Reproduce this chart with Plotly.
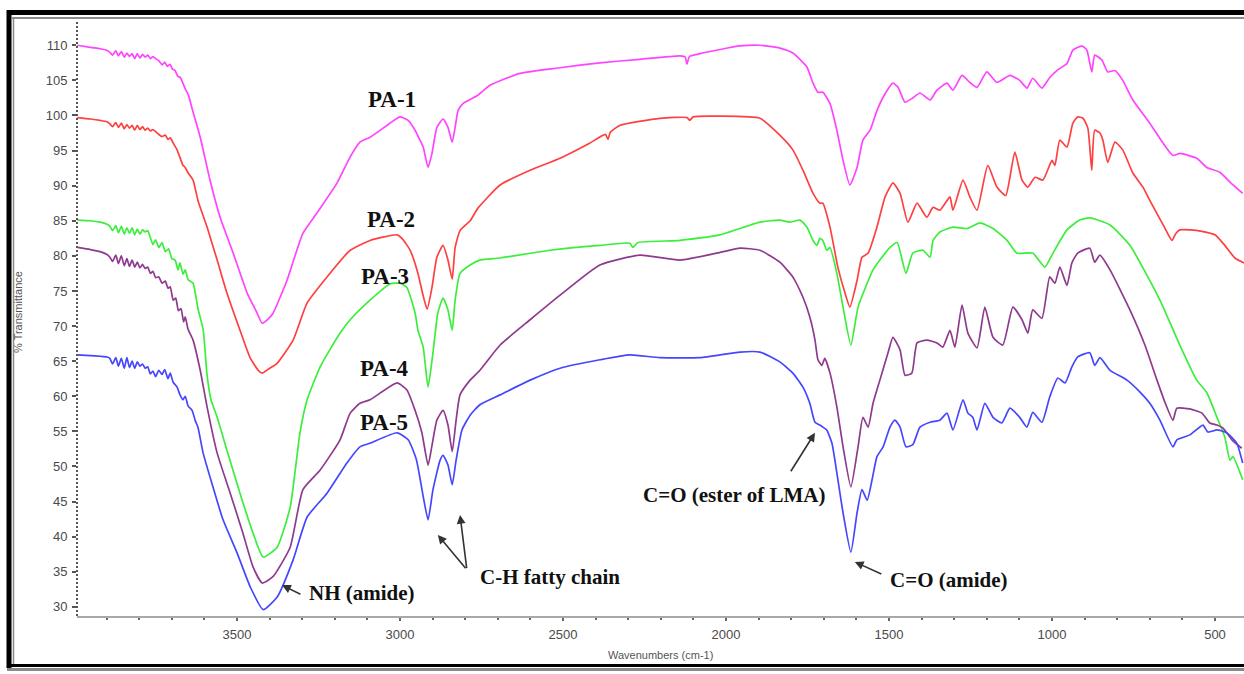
import plotly.graph_objects as go

# ---------------- data (wavenumber cm-1, % transmittance) ----------------
pa1_wn = [3990, 3950, 3920, 3900, 3890, 3882, 3872, 3864, 3855, 3846,
          3838, 3830, 3822, 3814, 3806, 3798, 3790, 3782, 3774, 3766,
          3758, 3750, 3740, 3730, 3722, 3714, 3706, 3698, 3690, 3682,
          3674, 3666, 3659, 3650, 3635, 3613, 3583, 3552, 3512, 3469,
          3440, 3423, 3405, 3390, 3347, 3298, 3255, 3193, 3153, 3123,
          3092, 3031, 3000, 2975, 2954, 2939, 2929, 2914, 2902, 2887,
          2868, 2853, 2840, 2831, 2822, 2807, 2764, 2724, 2632, 2509,
          2387, 2264, 2141, 2125, 2120, 2112, 2080, 2018, 1957, 1896,
          1835, 1795, 1752, 1733, 1718, 1703, 1681, 1660, 1641, 1620,
          1598, 1580, 1558, 1537, 1518, 1488, 1472, 1451, 1427, 1405,
          1374, 1353, 1322, 1304, 1276, 1252, 1230, 1200, 1169, 1129,
          1099, 1077, 1059, 1031, 1007, 985, 954, 936, 908, 893,
          878, 869, 847, 829, 807, 783, 752, 700, 660, 629,
          608, 556, 525, 485, 454, 415]
pa1_t = [110.0, 109.7, 109.5, 109.3, 109.0, 108.6, 109.2, 108.5, 109.1, 108.3,
         108.9, 108.4, 108.8, 108.1, 108.8, 108.2, 108.7, 108.3, 108.6, 108.1,
         108.4, 108.1, 107.8, 107.2, 107.6, 107.0, 107.3, 106.6, 106.4, 105.6,
         105.4, 104.6, 103.8, 103.0, 100.5, 96.9, 90.8, 85.5, 80.4, 74.7,
         72.0, 70.4, 71.0, 71.8, 76.5, 83.2, 86.1, 90.4, 94.1, 96.2,
         96.9, 98.9, 99.8, 99.3, 97.9, 96.5, 95.5, 92.6, 94.6, 98.3,
         99.5, 98.3, 96.2, 98.3, 100.7, 101.7, 102.8, 104.3, 106.0, 106.8,
         107.5, 108.0, 108.5, 108.3, 107.3, 108.4, 108.8, 109.4, 109.9, 110.0,
         109.6, 108.9, 106.9, 104.6, 103.3, 103.3, 101.7, 97.9, 93.6, 90.1,
         92.6, 96.5, 97.9, 100.7, 102.6, 104.6, 104.0, 101.9, 102.5, 103.2,
         102.2, 103.6, 104.6, 103.6, 105.7, 104.7, 104.0, 106.2, 104.7, 105.7,
         105.0, 103.9, 105.3, 103.9, 105.4, 106.4, 107.4, 109.3, 109.9, 109.3,
         106.2, 108.6, 107.9, 106.2, 106.4, 105.0, 102.2, 98.9, 96.1, 94.3,
         94.6, 93.9, 92.6, 91.9, 90.5, 88.9]

pa2_wn = [3990, 3950, 3920, 3899, 3890, 3882, 3872, 3864, 3855, 3846,
          3838, 3830, 3822, 3814, 3806, 3798, 3790, 3782, 3774, 3766,
          3758, 3750, 3740, 3730, 3720, 3712, 3705, 3695, 3684, 3675,
          3666, 3659, 3650, 3635, 3620, 3592, 3561, 3531, 3491, 3460,
          3435, 3423, 3400, 3377, 3328, 3285, 3224, 3153, 3092, 3009,
          2994, 2969, 2945, 2930, 2917, 2902, 2887, 2868, 2853, 2840,
          2831, 2816, 2785, 2761, 2693, 2601, 2509, 2420, 2370, 2362,
          2355, 2325, 2203, 2120, 2111, 2101, 2018, 1896, 1835, 1795,
          1764, 1733, 1712, 1703, 1681, 1657, 1635, 1620, 1598, 1583,
          1564, 1537, 1512, 1488, 1466, 1442, 1414, 1384, 1365, 1344,
          1313, 1304, 1273, 1252, 1230, 1197, 1169, 1142, 1114, 1092,
          1074, 1052, 1028, 1000, 991, 976, 954, 936, 921, 905,
          890, 878, 869, 853, 844, 829, 807, 783, 752, 721,
          700, 654, 632, 620, 608, 577, 540, 500, 470, 439, 411]
pa2_t = [99.7, 99.5, 99.3, 99.1, 98.8, 98.4, 99.0, 98.3, 98.9, 98.1,
         98.7, 98.2, 98.6, 97.9, 98.6, 98.0, 98.4, 97.9, 98.2, 97.8,
         98.0, 97.7, 97.3, 97.0, 97.2, 96.6, 96.8, 96.0, 95.1, 94.0,
         92.9, 92.6, 91.8, 90.8, 87.9, 84.1, 79.4, 74.7, 69.4, 65.5,
         63.7, 63.3, 64.0, 64.7, 68.0, 73.3, 77.0, 80.8, 82.2, 83.0,
         82.5, 80.8, 77.5, 74.5, 72.4, 75.5, 79.8, 81.5, 79.4, 76.7,
         81.2, 83.6, 85.0, 86.8, 90.1, 92.2, 93.9, 96.0, 97.3, 96.6,
         97.6, 98.6, 99.6, 99.7, 99.3, 99.8, 99.9, 99.6, 97.2, 95.1,
         92.2, 88.9, 87.5, 87.5, 84.1, 78.4, 74.7, 72.7, 76.5, 79.8,
         80.4, 84.1, 88.4, 90.4, 88.9, 84.8, 87.5, 85.5, 86.9, 86.5,
         88.4, 86.5, 90.8, 88.4, 86.5, 92.9, 89.8, 88.6, 94.8, 90.8,
         89.8, 91.2, 90.8, 93.6, 92.9, 96.5, 95.5, 98.9, 99.8, 99.6,
         98.2, 92.2, 97.9, 97.5, 96.5, 93.3, 96.2, 95.1, 91.8, 89.8,
         87.9, 84.0, 82.2, 83.2, 83.7, 83.7, 83.5, 83.0, 81.5, 79.7, 79.0]

pa3_wn = [3990, 3950, 3920, 3899, 3890, 3882, 3872, 3864, 3855, 3846,
          3838, 3830, 3822, 3814, 3806, 3798, 3790, 3782, 3774, 3766,
          3758, 3750, 3740, 3730, 3720, 3710, 3700, 3690, 3681, 3675,
          3666, 3659, 3650, 3635, 3620, 3604, 3592, 3580, 3561, 3531,
          3491, 3451, 3420, 3377, 3337, 3307, 3285, 3245, 3184, 3153,
          3092, 3031, 3000, 2979, 2954, 2945, 2929, 2914, 2899, 2884,
          2868, 2853, 2840, 2831, 2816, 2785, 2755, 2693, 2540, 2387,
          2295, 2286, 2270, 2141, 2018, 1896, 1835, 1804, 1773, 1752,
          1733, 1721, 1712, 1703, 1691, 1681, 1660, 1641, 1617, 1595,
          1567, 1549, 1528, 1497, 1475, 1448, 1427, 1396, 1374, 1365,
          1344, 1304, 1261, 1221, 1181, 1138, 1108, 1059, 1022, 997,
          954, 915, 884, 822, 761, 669, 608, 556, 525, 494,
          470, 454, 445, 415]
pa3_t = [85.1, 85.0, 84.8, 84.5, 84.2, 83.6, 84.3, 83.3, 84.2, 83.1,
         84.0, 83.2, 84.0, 83.0, 83.8, 83.1, 83.7, 83.4, 83.6, 82.6,
         81.6, 82.3, 81.2, 81.9, 80.6, 81.0, 79.6, 79.4, 78.0, 79.0,
         77.4, 78.0, 76.6, 76.1, 72.5, 69.5, 63.0, 59.5, 57.0, 52.3,
         46.2, 40.5, 37.1, 38.5, 44.2, 54.8, 59.5, 64.2, 69.0, 70.9,
         73.7, 76.0, 76.1, 75.5, 71.9, 69.4, 67.0, 61.3, 66.2, 71.9,
         74.0, 72.3, 69.4, 73.7, 77.5, 78.7, 79.4, 79.7, 80.8, 81.5,
         81.8, 81.2, 81.9, 82.2, 83.0, 84.8, 85.1, 84.8, 85.1, 84.1,
         82.2, 81.5, 82.5, 82.2, 80.8, 81.2, 77.5, 72.7, 67.3, 72.7,
         76.1, 78.0, 79.4, 81.2, 81.9, 77.5, 80.4, 80.8, 79.8, 82.2,
         83.4, 84.1, 83.9, 84.7, 83.9, 82.2, 80.4, 80.4, 78.4, 80.4,
         83.7, 85.1, 85.4, 84.4, 81.5, 73.7, 67.3, 62.3, 60.5, 57.0,
         54.2, 50.9, 51.4, 48.1]

pa4_wn = [3990, 3950, 3920, 3899, 3890, 3882, 3872, 3864, 3855, 3846,
          3838, 3830, 3822, 3814, 3806, 3798, 3790, 3782, 3774, 3766,
          3758, 3750, 3740, 3730, 3720, 3712, 3705, 3696, 3688, 3680,
          3672, 3664, 3659, 3650, 3635, 3613, 3592, 3561, 3521, 3482,
          3451, 3423, 3390, 3337, 3298, 3245, 3184, 3153, 3123, 3092,
          3009, 2979, 2954, 2933, 2914, 2902, 2887, 2868, 2853, 2840,
          2828, 2816, 2785, 2755, 2693, 2601, 2509, 2387, 2264, 2141,
          2018, 1957, 1896, 1835, 1795, 1764, 1743, 1727, 1718, 1706,
          1697, 1681, 1660, 1641, 1617, 1595, 1580, 1564, 1549, 1528,
          1503, 1488, 1466, 1451, 1430, 1414, 1384, 1353, 1335, 1313,
          1298, 1276, 1258, 1230, 1206, 1181, 1151, 1120, 1092, 1074,
          1059, 1031, 1007, 991, 976, 954, 939, 921, 884, 869,
          853, 822, 761, 715, 678, 654, 629, 617, 577, 540,
          516, 494, 476, 448, 418]
pa4_t = [81.2, 80.9, 80.6, 80.2, 79.8, 79.2, 80.1, 78.9, 80.0, 78.6,
         79.6, 78.5, 79.4, 78.4, 79.1, 78.3, 78.8, 78.2, 78.4, 77.5,
         77.8, 76.9, 77.0, 76.1, 76.4, 75.4, 75.6, 73.7, 74.0, 72.2,
         72.5, 70.6, 71.3, 69.5, 68.0, 63.7, 58.5, 51.9, 46.2, 40.5,
         35.7, 33.4, 34.3, 38.5, 46.7, 49.5, 53.8, 57.6, 59.0, 59.5,
         61.9, 60.9, 58.0, 54.8, 50.2, 53.0, 56.6, 58.0, 55.9, 52.1,
         56.6, 60.2, 62.3, 63.7, 67.3, 70.9, 74.4, 78.7, 80.1, 79.4,
         80.5, 81.1, 80.8, 79.1, 77.0, 74.1, 71.3, 68.0, 65.2, 64.4,
         65.4, 63.3, 58.5, 52.8, 47.1, 52.8, 57.0, 55.6, 59.0, 62.3,
         66.2, 68.4, 66.6, 63.0, 63.3, 67.6, 68.0, 67.6, 67.0, 69.4,
         67.0, 73.0, 69.0, 66.9, 72.7, 68.4, 67.3, 72.7, 70.9, 69.0,
         72.3, 71.1, 77.0, 76.1, 78.4, 75.8, 79.0, 80.4, 81.1, 79.1,
         80.1, 78.0, 72.3, 67.3, 62.3, 59.2, 56.6, 58.3, 58.2, 57.6,
         56.2, 55.9, 55.5, 53.8, 52.6]

pa5_wn = [3990, 3950, 3920, 3899, 3890, 3882, 3872, 3864, 3855, 3846,
          3838, 3830, 3822, 3814, 3806, 3798, 3790, 3782, 3774, 3766,
          3758, 3750, 3740, 3730, 3722, 3712, 3705, 3696, 3684, 3675,
          3666, 3659, 3650, 3638, 3628, 3620, 3604, 3574, 3543, 3500,
          3460, 3420, 3377, 3328, 3285, 3224, 3163, 3123, 3092, 3009,
          2975, 2950, 2930, 2914, 2899, 2877, 2868, 2853, 2840, 2828,
          2810, 2785, 2755, 2693, 2601, 2509, 2387, 2295, 2203, 2080,
          1957, 1896, 1835, 1795, 1764, 1743, 1727, 1712, 1703, 1691,
          1675, 1660, 1641, 1617, 1598, 1583, 1567, 1552, 1537, 1518,
          1497, 1482, 1466, 1448, 1427, 1405, 1374, 1344, 1322, 1304,
          1273, 1258, 1243, 1230, 1206, 1181, 1154, 1129, 1099, 1077,
          1059, 1031, 1007, 982, 960, 939, 921, 884, 869, 853,
          822, 770, 730, 700, 669, 629, 617, 577, 537, 522,
          494, 464, 433, 415]
pa5_t = [65.9, 65.8, 65.7, 65.6, 65.4, 64.6, 65.5, 64.3, 65.4, 64.0,
         65.5, 64.1, 65.0, 64.0, 64.9, 64.3, 64.6, 64.0, 64.2, 63.2,
         63.6, 62.8, 63.7, 63.1, 63.8, 62.5, 63.3, 62.0, 61.3, 60.2,
         59.5, 60.0, 58.6, 58.0, 56.5, 55.6, 51.9, 47.1, 42.4, 37.7,
         32.9, 29.6, 31.4, 36.7, 42.8, 46.2, 50.5, 52.8, 53.3, 54.8,
         53.8, 51.0, 46.0, 42.4, 46.7, 50.9, 51.6, 50.2, 47.4, 50.9,
         55.2, 57.3, 58.8, 60.2, 62.3, 64.0, 65.2, 65.9, 65.5, 65.5,
         66.3, 66.3, 64.9, 63.3, 61.3, 59.0, 56.3, 55.9, 55.6, 55.2,
         53.3, 49.1, 43.4, 37.8, 43.4, 46.7, 45.2, 48.1, 51.4, 52.8,
         55.6, 56.6, 55.6, 52.8, 53.1, 55.6, 56.3, 56.6, 57.6, 55.2,
         59.5, 57.6, 57.0, 55.2, 59.0, 57.0, 56.2, 58.3, 57.0, 55.6,
         57.7, 56.3, 59.9, 62.6, 61.9, 64.2, 65.6, 66.2, 64.4, 65.5,
         63.7, 62.3, 60.6, 59.0, 56.6, 52.8, 53.8, 54.5, 55.9, 54.9,
         55.2, 54.8, 53.3, 50.5]

series_names = ["PA-1", "PA-2", "PA-3", "PA-4", "PA-5"]
series_colors = ["#ff44ff", "#ff4040", "#3cee3c", "#8e3a8e", "#4646ff"]
series_wn = [pa1_wn, pa2_wn, pa3_wn, pa4_wn, pa5_wn]
series_t = [pa1_t, pa2_t, pa3_t, pa4_t, pa5_t]

# label anchor points (wavenumber, transmittance)
label_wn = [3025, 3028, 3046, 3049, 3049]
label_t = [102.3, 85.2, 77.1, 63.9, 56.3]

x_tick_vals = [3500, 3000, 2500, 2000, 1500, 1000, 500]
x_tick_text = ["3500", "3000", "2500", "2000", "1500", "1000", "500"]
y_tick_vals = [30, 35, 40, 45, 50, 55, 60, 65, 70, 75, 80, 85, 90, 95, 100, 105, 110]
y_tick_text = [str(v) for v in y_tick_vals]

X_RANGE = [3991, 411]
Y_RANGE = [28.7, 113.6]

# ---------------- figure ----------------
fig = go.Figure()
for name, wn, t, col in zip(series_names, series_wn, series_t, series_colors):
    assert len(wn) == len(t), name
    fig.add_trace(go.Scatter(x=wn, y=t, mode="lines", name=name,
                             line=dict(color=col, width=1.7, shape="spline", smoothing=0.5),
                             showlegend=False, hoverinfo="x+y+name"))

W, H = 1244, 674
L, R, T, B = 77, 0, 20, 58
pw, ph = W - L - R, H - T - B


def px(xpix):
    return (xpix - L) / pw


def py(ypix):
    return (H - B - ypix) / ph


label_font = dict(family="Liberation Serif, Times New Roman, serif", size=23, color="#111111")
ann_font = dict(family="Liberation Serif, Times New Roman, serif", size=21, color="#111111")

annotations = []
for name, lx, ly in zip(series_names, label_wn, label_t):
    annotations.append(dict(x=lx, y=ly, xref="x", yref="y", text="<b>%s</b>" % name,
                            showarrow=False, font=label_font))

# text annotations
annotations += [
    dict(x=3117, y=32.0, text="<b>NH (amide)</b>", showarrow=False, font=ann_font),
    dict(x=2540, y=34.3, text="<b>C-H fatty chain</b>", showarrow=False, font=ann_font),
    dict(x=1976, y=45.9, text="<b>C=O (ester of LMA)</b>", showarrow=False, font=ann_font),
    dict(x=1316, y=33.8, text="<b>C=O (amide)</b>", showarrow=False, font=ann_font),
]
# arrows: (head_x, head_y, tail_x, tail_y)
arrows = [
    (3362, 33.1, 3301, 31.7),
    (2884, 40.25, 2795, 35.3),
    (2816, 43.1, 2795, 35.3),
    (1727, 54.8, 1804, 49.1),
    (1605, 36.4, 1519, 34.6),
]
for hx, hy, tx, ty in arrows:
    annotations.append(dict(x=hx, y=hy, ax=tx, ay=ty, xref="x", yref="y", axref="x", ayref="y",
                            text="", showarrow=True, arrowhead=2, arrowsize=1.1,
                            arrowwidth=1.6, arrowcolor="#333333"))

axis_font = dict(family="Liberation Sans Narrow, Arial Narrow, Liberation Sans, Arial, sans-serif",
                 size=13, color="#4a4a4a")
title_font = dict(family="Liberation Sans, Arial, sans-serif", size=11, color="#555555")
annotations += [
    dict(x=0.5, y=py(655), xref="paper", yref="paper", text="Wavenumbers (cm-1)",
         xanchor="center", yanchor="middle", showarrow=False, font=title_font),
    dict(x=px(18), y=py(312), xref="paper", yref="paper", text="% Transmittance", textangle=-90,
         xanchor="center", yanchor="middle", showarrow=False, font=title_font),
]

shapes = [
    # dotted y axis line
    dict(type="line", xref="paper", yref="paper", x0=0, x1=0, y0=0, y1=1,
         line=dict(color="#555555", width=2, dash="2px,2px")),
    # outer frame: top
    dict(type="line", xref="paper", yref="paper", x0=px(7), x1=px(1250), y0=py(12.5), y1=py(12.5),
         line=dict(color="#000000", width=5)),
    dict(type="line", xref="paper", yref="paper", x0=px(12), x1=px(1250), y0=py(18), y1=py(18),
         line=dict(color="#8a8a8a", width=2)),
    # left
    dict(type="line", xref="paper", yref="paper", x0=px(9), x1=px(9), y0=py(10), y1=py(668),
         line=dict(color="#000000", width=5)),
    dict(type="line", xref="paper", yref="paper", x0=px(13.5), x1=px(13.5), y0=py(18), y1=py(664),
         line=dict(color="#8a8a8a", width=1.5)),
    # bottom
    dict(type="line", xref="paper", yref="paper", x0=px(7), x1=px(1250), y0=py(665.5), y1=py(665.5),
         line=dict(color="#000000", width=3)),
    dict(type="line", xref="paper", yref="paper", x0=px(7), x1=px(1250), y0=py(669.5), y1=py(669.5),
         line=dict(color="#8a8a8a", width=3)),
]

fig.update_layout(
    width=W, height=H,
    margin=dict(l=L, r=R, t=T, b=B, pad=0),
    paper_bgcolor="white", plot_bgcolor="white",
    showlegend=False,
    annotations=annotations,
    shapes=shapes,
    xaxis=dict(range=X_RANGE, tickmode="array", tickvals=x_tick_vals, ticktext=x_tick_text,
               showgrid=False, zeroline=False, showline=True, linecolor="#a8a8a8", linewidth=2,
               ticks="outside", ticklen=3, tickwidth=2, tickcolor="#666666",
               minor=dict(dtick=100, tick0=0, ticks="outside", ticklen=2, tickwidth=2, tickcolor="#666666"),
               tickfont=axis_font, ticklabelstandoff=2),
    yaxis=dict(range=Y_RANGE, tickmode="array", tickvals=y_tick_vals, ticktext=y_tick_text,
               showgrid=False, zeroline=False, showline=False,
               ticks="outside", ticklen=4, tickwidth=1.5, tickcolor="#555555",
               tickfont=axis_font, ticklabelstandoff=2),
)

fig.write_html("out.html")
